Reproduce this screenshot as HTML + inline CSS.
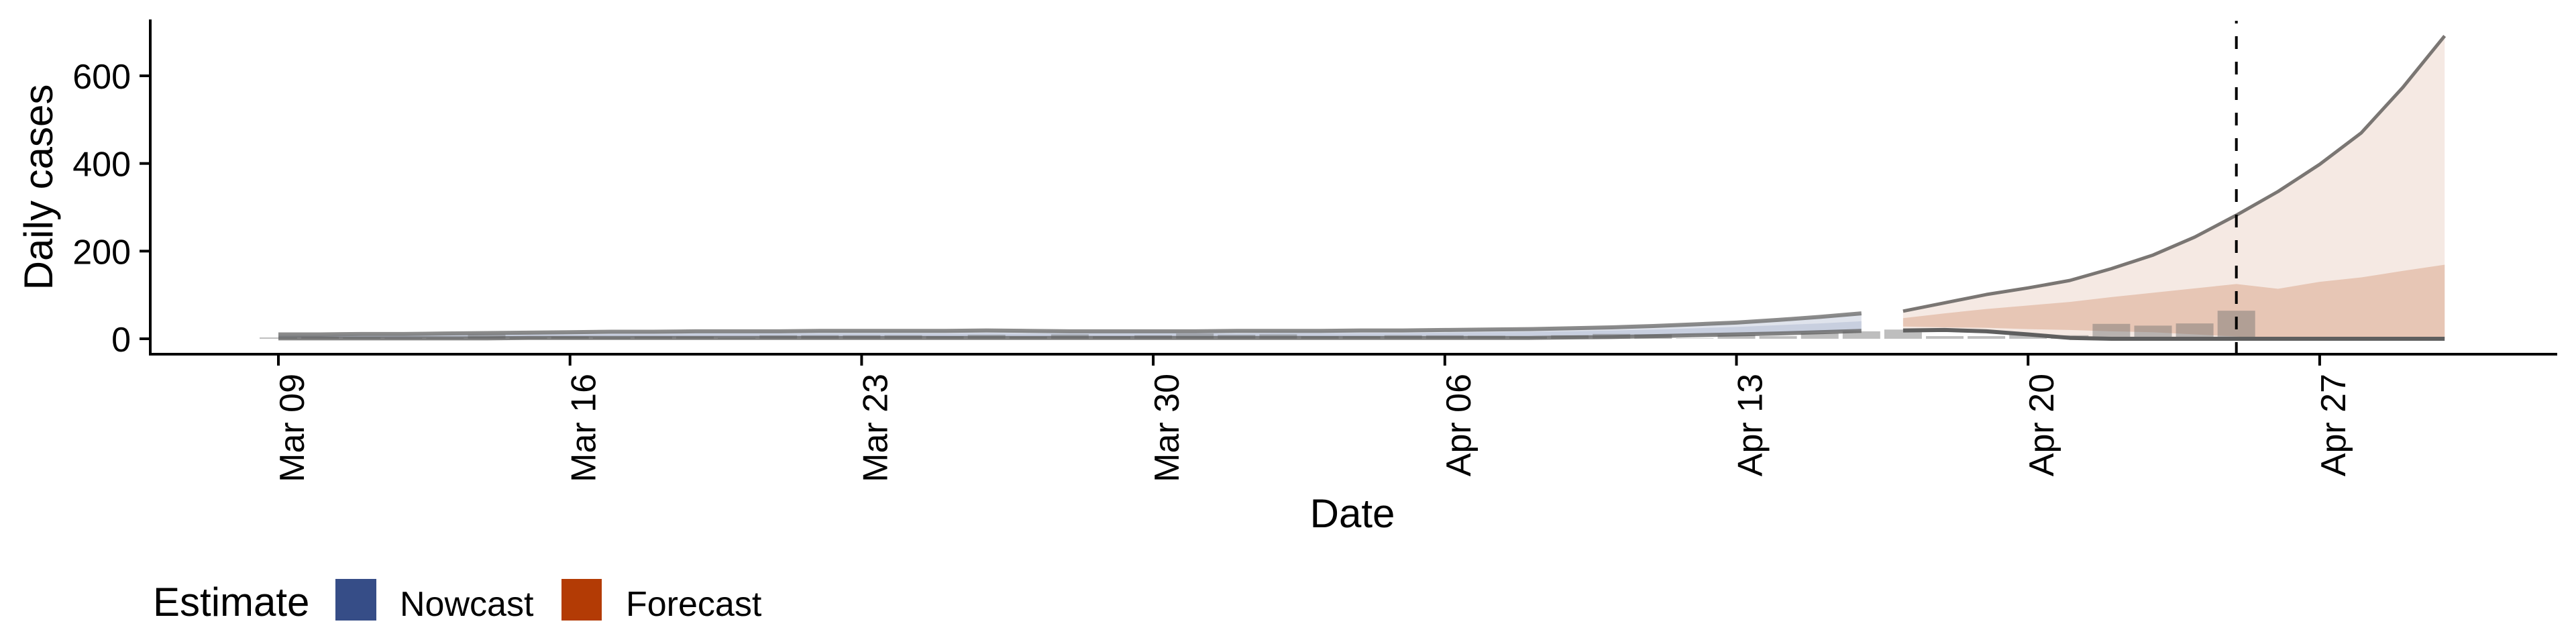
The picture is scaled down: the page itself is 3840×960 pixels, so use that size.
<!DOCTYPE html>
<html><head><meta charset="utf-8"><style>
html,body{margin:0;padding:0;background:#fff}
svg{display:block}
text{font-family:"Liberation Sans",sans-serif;fill:#000}
</style></head><body>
<svg id="chart" width="3840" height="960" viewBox="0 0 3840 960">
<g id="plot"></g>
<g id="axes"></g>
<g>
<text x="228" y="918" font-size="60">Estimate</text>
<rect x="500" y="863" width="61" height="62" fill="#364d87"/>
<text x="596" y="918" font-size="52">Nowcast</text>
<rect x="837" y="863" width="60" height="62" fill="#b33b05"/>
<text x="933" y="918" font-size="52">Forecast</text>
</g>
</svg>
<script>
// day 0 = Mar 09
const xTickLabels = ["Mar 09","Mar 16","Mar 23","Mar 30","Apr 06","Apr 13","Apr 20","Apr 27"];
const xTickDays = [0,7,14,21,28,35,42,49];
const yTicks = [0,200,400,600];
const observedCases = [3,4,3,2,2,10,3,5,3,5,5,2,8,8,8,8,6,9,5,10,6,8,12,9,10,6,6,8,8,7,5,8,11,10,1,9,6,13,17,21,6,6,10,8,34,30,35,64];
const nowcastUpper = [10,10,11,11,12,13,14,15,16,16,17,17,17,18,18,18,18,19,18,17,17,17,17,18,18,18,19,19,20,21,22,24,26,29,33,37,43,50,58];
const nowcastInnerUpper = [7,7,8,8,8,9,10,10,11,11,12,12,12,12,12,12,12,13,12,12,12,12,12,12,13,13,13,13,14,15,16,17,19,21,24,27,31,35,40];
const nowcastInnerLower = [4,4,4,4,5,5,5,6,6,6,6,6,6,6,6,6,6,6,6,6,6,6,6,6,6,6,6,7,7,7,7,8,9,10,12,14,16,18,22];
const nowcastLower = [1,1,1,1,1,1,2,2,2,2,2,2,2,2,2,2,2,2,2,2,2,2,2,2,2,2,2,2,2,2,2,3,4,6,8,10,12,15,18];
const forecastStart = 39;
const forecastUpper = [63,82,101,116,133,160,191,232,282,336,398,470,574,691];
const forecastInnerUpper = [47,58,68,76,84,95,105,115,125,114,130,140,155,169];
const forecastInnerLower = [28,26,25,22,20,17,15,10,5,0,0,0,0,0];
const forecastLower = [19,20,17,10,2,0,0,0,0,0,0,0,0,0];
const forecastDateDay = 47;

const NS="http://www.w3.org/2000/svg";
const X0=415, PXD=62.1, Y0=505, PXU=0.6533;
const xs=d=>X0+d*PXD, ys=v=>Y0-v*PXU;
const plot=document.getElementById('plot'), axes=document.getElementById('axes');
function mk(tag,attrs,parent){const e=document.createElementNS(NS,tag);for(const k in attrs)e.setAttribute(k,attrs[k]);parent.appendChild(e);return e;}
function band(lo,hi,start,fill,name){
  let pts=[];hi.forEach((v,i)=>pts.push(xs(start+i)+','+ys(v)));
  for(let i=lo.length-1;i>=0;i--)pts.push(xs(start+i)+','+ys(lo[i]));
  const p=mk('polygon',{points:pts.join(' '),fill:fill},plot);
  
  
}
function line(vals,start,stroke,w,name){
  const p=mk('polyline',{points:vals.map((v,i)=>xs(start+i)+','+ys(v)).join(' '),fill:'none',stroke:stroke,'stroke-width':w,'stroke-linejoin':'round'},plot);
  
  
}
band(nowcastLower,nowcastUpper,0,'#dfe3ec','nowcast-outer-band');
band(nowcastInnerLower,nowcastInnerUpper,0,'#c8cfdf','nowcast-inner-band');
band(forecastLower,forecastUpper,forecastStart,'#f5e9e3','forecast-outer-band');
band(forecastInnerLower,forecastInnerUpper,forecastStart,'#e7c6b5','forecast-inner-band');
observedCases.forEach((v,i)=>{
  const r=mk('rect',{x:xs(i)-28,y:ys(v),width:56,height:Math.max(0,Y0-ys(v)),fill:'rgba(110,110,110,0.45)'},plot);
  
  
});
line(nowcastUpper,0,'rgba(110,110,110,0.8)',6,'nowcast-upper-line');
line(nowcastLower,0,'rgba(90,90,90,0.75)',6,'nowcast-lower-line');
line(forecastUpper,forecastStart,'#7a7673',5,'forecast-upper-line');
line(forecastLower,forecastStart,'#5f5f5f',6,'forecast-lower-line');
const dl=mk('line',{x1:xs(forecastDateDay),x2:xs(forecastDateDay),y1:31,y2:528,stroke:'#000','stroke-width':4,'stroke-dasharray':'19 19','stroke-dashoffset':15},axes);


const ya=mk('line',{x1:224,x2:224,y1:29,y2:530,stroke:'#000','stroke-width':4},axes);


const xa=mk('line',{x1:222,x2:3812,y1:528,y2:528,stroke:'#000','stroke-width':4},axes);


yTicks.forEach(v=>{
  const t=mk('line',{x1:208,x2:224,y1:ys(v),y2:ys(v),stroke:'#000','stroke-width':4},axes);
  
  
  const l=mk('text',{x:195,y:ys(v)+19,'text-anchor':'end','font-size':52},axes);
  l.textContent=v;
  
  
});
xTickDays.forEach((d,i)=>{
  const x=xs(d);
  const t=mk('line',{x1:x,x2:x,y1:528,y2:545,stroke:'#000','stroke-width':4},axes);
  
  
  const l=mk('text',{transform:`translate(${x+38},557) rotate(-90)`,'text-anchor':'end','font-size':52},axes);
  l.textContent=xTickLabels[i];
  
  
});
const xt=mk('text',{x:2016,y:786,'text-anchor':'middle','font-size':60},axes);
xt.textContent='Date';


const yt=mk('text',{transform:'translate(78,279) rotate(-90)','text-anchor':'middle','font-size':60},axes);
yt.textContent='Daily cases';


</script>
</body></html>
